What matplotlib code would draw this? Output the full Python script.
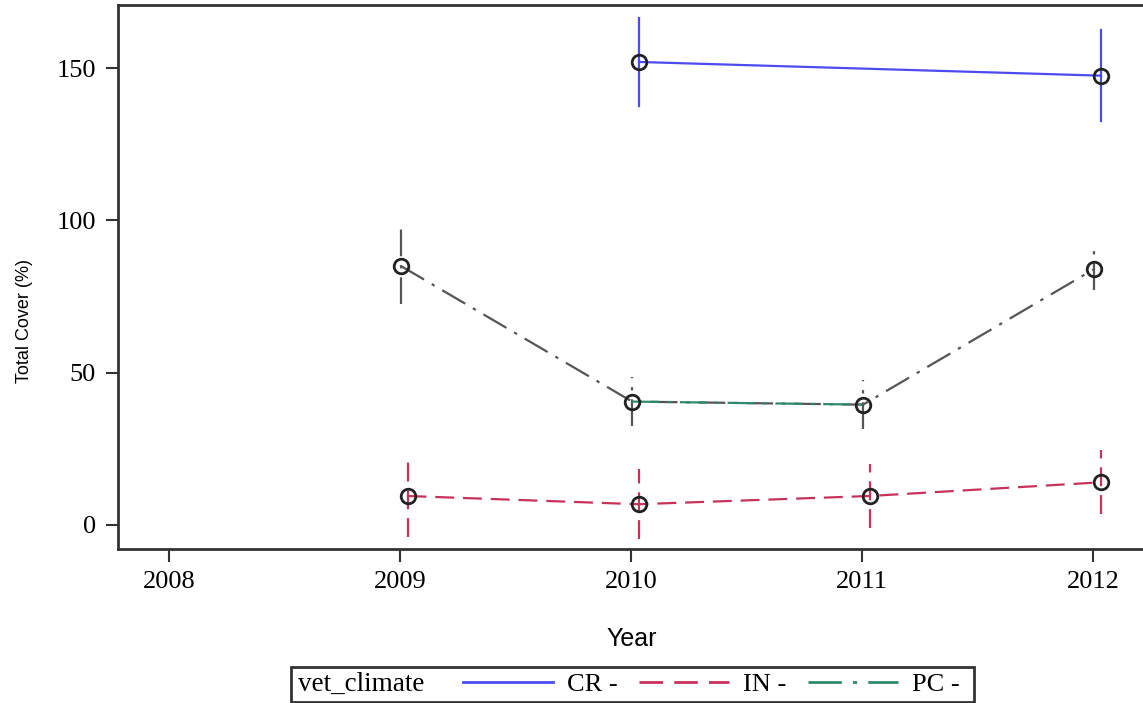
import matplotlib.pyplot as plt
from matplotlib.lines import Line2D
from matplotlib.patches import Rectangle
import numpy as np

# total cover by vegetation/climate group, mean and error per year
cr_years = [2010, 2012]
cr_mean = [152.0, 147.5]
cr_err = [14.5, 15.0]

in_years = [2009, 2010, 2011, 2012]
in_mean = [9.5, 6.8, 9.5, 14.0]
in_err = [13.5, 11.5, 10.5, 10.5]

pc_years = [2009, 2010, 2011, 2012]
pc_mean = [85.0, 40.5, 39.5, 84.0]
pc_err = [12.5, 8.0, 8.0, 7.0]

year_ticks = [2008, 2009, 2010, 2011, 2012]
cover_ticks = [0, 50, 100, 150]

CR_COL = '#4b4bf0'
IN_COL = '#c8325a'
PC_COL = '#2e8b6a'
PC_GREY = '#555555'

IN_DASH = (8.5, 4)
PC_DASH = (12, 4, 1.5, 4)

serif = 'Liberation Serif'
sans = 'Liberation Sans'

fig = plt.figure(figsize=(11.43, 7.03), dpi=100)
ax = fig.add_axes([118/1143, 1 - 549/703, 1027/1143, 544/703])


def group(years, mean, err, shift, color, dashes, bar_color=None):
    x = np.array(years) + shift
    m = np.array(mean)
    e = np.array(err)
    bc = bar_color or color
    for xi, mi, ei in zip(x, m, e):
        ln, = ax.plot([xi, xi], [mi - ei, mi + ei], color=bc, lw=1.6)
        if dashes:
            ln.set_dashes(dashes)
    ln, = ax.plot(x, m, color=bc, lw=1.6)
    if dashes:
        ln.set_dashes(dashes)
    return x, m


group(cr_years, cr_mean, cr_err, 0.035, CR_COL, None)
group(in_years, in_mean, in_err, 0.033, IN_COL, IN_DASH)
px, pm = group(pc_years, pc_mean, pc_err, 0.005, PC_COL, PC_DASH, bar_color=PC_GREY)
# middle stretch of the PC line keeps its own colour
seg, = ax.plot(px[1:3], pm[1:3], color=PC_COL, lw=1.6)
seg.set_dashes(PC_DASH)

for x, m, s in [(cr_years, cr_mean, 0.035), (in_years, in_mean, 0.033), (pc_years, pc_mean, 0.005)]:
    ax.plot(np.array(x) + s, m, 'o', ms=10.5, mfc='none', mec='#222222', mew=2, zorder=5)

ax.set_xlim(2007.78, 2012.225)
ax.set_ylim(-7.9, 170.7)
ax.set_xticks(year_ticks)
ax.set_yticks(cover_ticks)
ax.tick_params(direction='out', length=9, width=1.5, pad=7, labelsize=19, color='#333333')
for lab in ax.get_xticklabels() + ax.get_yticklabels():
    lab.set_fontfamily(serif)
for sp in ax.spines.values():
    sp.set_linewidth(2)
    sp.set_color('#333333')

ax.set_xlabel('Year', fontfamily=sans, fontsize=18)
ax.set_ylabel('Total Cover (%)', fontfamily=sans, fontsize=13)
ax.xaxis.set_label_coords(0.5, -0.143)
ax.yaxis.set_label_coords(-0.083, 0.42)

# legend strip along the bottom
fig.patches.append(Rectangle((291/1143, 1 - 702/703), 683/1143, 35/703,
                             transform=fig.transFigure, fill=False,
                             edgecolor='#333333', lw=2))
fig.text(298/1143, 1 - 684/703, 'vet_climate', fontfamily=serif, fontsize=19.5,
         va='center', ha='left')
h_cr = Line2D([], [], color=CR_COL, lw=2)
h_in = Line2D([], [], color=IN_COL, lw=2, dashes=IN_DASH)
h_pc = Line2D([], [], color=PC_COL, lw=2, dashes=PC_DASH)
fig.legend([h_cr, h_in, h_pc], ['CR -', 'IN -', 'PC -'], ncol=3,
           loc='center left', bbox_to_anchor=(463/1143, 1 - 684/703),
           frameon=False, borderpad=0, borderaxespad=0, handlelength=3.4,
           handletextpad=0.55, columnspacing=0.8,
           prop={'family': serif, 'size': 19})

fig.savefig('out.png', dpi=100)
